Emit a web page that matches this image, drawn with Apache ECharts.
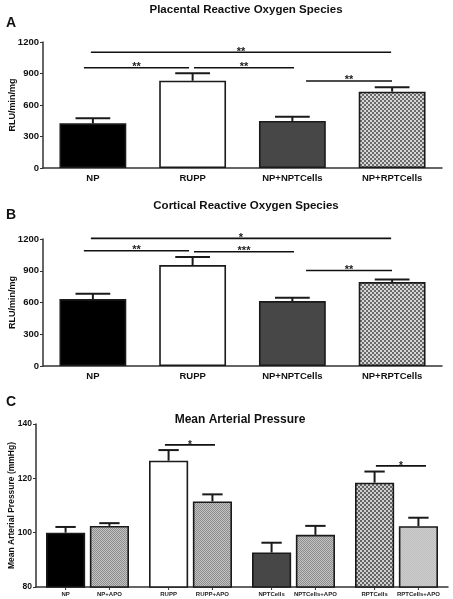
<!DOCTYPE html>
<html><head><meta charset="utf-8">
<script src="https://cdn.jsdelivr.net/npm/echarts@6/dist/echarts.min.js"></script>
<style>html,body{margin:0;padding:0;background:#fff}#c{width:453px;height:599px}</style>
</head><body><div id="c"></div>
<script>
// ---------- data ----------
const rosCategories = ['NP', 'RUPP', 'NP+NPTCells', 'NP+RPTCells'];
const placentalMean = [425, 831, 448, 727];
const placentalSem = [48, 71, 41, 42];
const corticalMean = [632, 954, 613, 793];
const corticalSem = [50, 76, 31, 25];
const rosTicks = [0, 300, 600, 900, 1200];

const mapGroups = ['NP', 'RUPP', 'NPTCells', 'RPTCells'];
const mapLabelsCtrl = ['NP', 'RUPP', 'NPTCells', 'RPTCells'];
const mapLabelsApo = ['NP+APO', 'RUPP+APO', 'NPTCells+APO', 'RPTCells+APO'];
const mapCtrlMean = [100.0, 126.5, 92.7, 118.4];
const mapCtrlSem = [2.1, 3.9, 3.6, 4.1];
const mapApoMean = [102.5, 111.5, 99.2, 102.4];
const mapApoSem = [1.0, 2.6, 3.3, 3.1];
const mapTicks = [80, 100, 120, 140];

// significance brackets: [from (category units), to, level, stars]
const sigPlacental = [[-0.02, 2.99, 1102, '**'], [-0.09, 0.964, 955, '**'], [1.014, 2.016, 955, '**'], [2.137, 2.999, 829, '**']];
const sigCortical = [[-0.02, 2.99, 1206, '*'], [-0.09, 0.964, 1089, '**'], [1.014, 2.016, 1080, '***'], [2.137, 2.999, 903, '**']];
const sigMap = [[0.752, 1.238, 132.3, '*'], [2.80, 3.286, 124.6, '*']];

// ---------- styles ----------
const FONT = '"Liberation Sans", Arial, sans-serif';
function checker(cell, c1, c2) {
  const cv = document.createElement('canvas');
  cv.width = cv.height = cell * 2;
  const ctx = cv.getContext('2d');
  ctx.fillStyle = c1; ctx.fillRect(0, 0, cell * 2, cell * 2);
  ctx.fillStyle = c2; ctx.fillRect(0, 0, cell, cell); ctx.fillRect(cell, cell, cell, cell);
  return { image: cv, repeat: 'repeat' };
}
const coarseChecker = checker(2, '#d6d6d6', '#6a6a6a');
const fineGray = checker(1, '#c2c2c2', '#8e8e8e');
const lightGray = checker(1, '#cdcdcd', '#bebebe');
const rosColors = ['#000000', '#ffffff', '#474747', coarseChecker];
const ctrlColors = ['#000000', '#ffffff', '#474747', checker(2, '#cfcfcf', '#646464')];
const apoColors = [fineGray, fineGray, fineGray, lightGray];
const BORDER = '#1a1a1a';
const AXIS = '#333333';

function barData(vals, colors) {
  return vals.map((v, i) => ({ value: v, itemStyle: { color: colors[i] } }));
}

function errRender(offsetSign, barFrac, gapFrac, capFrac, tickBase) {
  return function (params, api) {
    const x = api.value(0);
    const mean = api.value(1), sem = api.value(2);
    const catW = api.size([1, 0])[0];
    const bw = catW * barFrac;
    const off = offsetSign * bw * (1 + gapFrac) / 2;
    const top = api.coord([x, mean + sem]);
    const base = api.coord([x, mean]);
    const cx = top[0] + off;
    const cap = bw * capFrac / 2;
    const children = [
      { type: 'line', shape: { x1: cx, y1: base[1], x2: cx, y2: top[1] }, style: { stroke: BORDER, lineWidth: 2 } },
      { type: 'line', shape: { x1: cx - cap, y1: top[1], x2: cx + cap, y2: top[1] }, style: { stroke: BORDER, lineWidth: 2 } }
    ];
    if (tickBase != null) {
      const b = api.coord([x, tickBase]);
      children.push({ type: 'line', shape: { x1: cx, y1: b[1], x2: cx, y2: b[1] + 3 }, style: { stroke: AXIS, lineWidth: 1 } });
    }
    return { type: 'group', children: children };
  };
}

function sigRender(fontSize) {
  return function (params, api) {
    const p1 = api.coord([api.value(0), api.value(2)]);
    const p2 = api.coord([api.value(1), api.value(2)]);
    return {
      type: 'group',
      children: [
        { type: 'line', shape: { x1: p1[0], y1: p1[1], x2: p2[0], y2: p1[1] }, style: { stroke: '#111', lineWidth: 1.6 } },
        { type: 'text', style: { text: api.value(3), x: (p1[0] + p2[0]) / 2, y: p1[1] + 5, align: 'center', verticalAlign: 'bottom', font: 'bold ' + fontSize + 'px ' + FONT, fill: '#222' } }
      ]
    };
  };
}

function sigData(arr) { return arr.map(s => [s[0], s[1], s[2], s[3]]); }

const chart = echarts.init(document.getElementById('c'), null, { renderer: 'canvas' });

const commonCatAxis = {
  type: 'category',
  axisLine: { lineStyle: { color: AXIS, width: 1.5 } },
  axisTick: { alignWithLabel: true, length: 3, lineStyle: { color: AXIS } },
  axisLabel: { color: '#111', fontWeight: 'bold', fontSize: 9.5, fontFamily: FONT, margin: 5 }
};
const rosY = {
  type: 'value', min: rosTicks[0], max: rosTicks[rosTicks.length - 1], interval: 300,
  splitLine: { show: false },
  axisLine: { show: true, onZero: false, lineStyle: { color: AXIS, width: 1.5 } },
  axisTick: { show: true, length: 3, lineStyle: { color: AXIS } },
  axisLabel: { color: '#111', fontWeight: 'bold', fontSize: 9.5, fontFamily: FONT, margin: 4, formatter: v => String(v) },
  name: 'RLU/min/mg', nameLocation: 'middle', nameGap: 26, nameMoveOverlap: false,
  nameTextStyle: { color: '#111', fontWeight: 'bold', fontSize: 9, fontFamily: FONT }
};

const option = {
  animation: false,
  backgroundColor: '#ffffff',
  title: [
    { text: 'Placental Reactive Oxygen Species', left: 241, top: -1, textAlign: 'center', textStyle: { fontSize: 11.5, fontWeight: 'bold', fontFamily: FONT, color: '#111' } },
    { text: 'Cortical Reactive Oxygen Species', left: 241, top: 195, textAlign: 'center', textStyle: { fontSize: 11.5, fontWeight: 'bold', fontFamily: FONT, color: '#111' } },
    { text: 'Mean Arterial Pressure', left: 235, top: 409, textAlign: 'center', textStyle: { fontSize: 12, fontWeight: 'bold', fontFamily: FONT, color: '#111' } }
  ],
  graphic: [
    { type: 'text', left: 6, top: 16, style: { text: 'A', font: 'bold 14px ' + FONT, fill: '#111' } },
    { type: 'text', left: 6, top: 208, style: { text: 'B', font: 'bold 14px ' + FONT, fill: '#111' } },
    { type: 'text', left: 6, top: 395, style: { text: 'C', font: 'bold 14px ' + FONT, fill: '#111' } }
  ],
  grid: [
    { left: 43, right: 11, top: 42, height: 126, outerBoundsMode: 'none', containLabel: false },
    { left: 43, right: 11, top: 239, height: 127, outerBoundsMode: 'none', containLabel: false },
    { left: 36, right: 5, top: 424, height: 163, outerBoundsMode: 'none', containLabel: false }
  ],
  xAxis: [
    Object.assign({}, commonCatAxis, { gridIndex: 0, data: rosCategories }),
    { type: 'value', gridIndex: 0, min: -0.5, max: 3.5, show: false },
    Object.assign({}, commonCatAxis, { gridIndex: 1, data: rosCategories }),
    { type: 'value', gridIndex: 1, min: -0.5, max: 3.5, show: false },
    Object.assign({}, commonCatAxis, { gridIndex: 2, data: mapGroups, axisTick: { show: false }, axisLabel: { show: false } }),
    { type: 'value', gridIndex: 2, min: -0.5, max: 3.5, show: false }
  ],
  yAxis: [
    Object.assign({}, rosY, { gridIndex: 0 }),
    Object.assign({}, rosY, { gridIndex: 1 }),
    {
      type: 'value', gridIndex: 2, min: mapTicks[0], max: mapTicks[mapTicks.length - 1], interval: 20,
      splitLine: { show: false },
      axisLine: { show: true, onZero: false, lineStyle: { color: AXIS, width: 1.5 } },
      axisTick: { show: true, length: 3, lineStyle: { color: AXIS } },
      axisLabel: { color: '#111', fontWeight: 'bold', fontSize: 8.5, fontFamily: FONT, margin: 4 },
      name: 'Mean Arterial Pressure (mmHg)', nameLocation: 'middle', nameGap: 20, nameMoveOverlap: false,
      nameTextStyle: { color: '#111', fontWeight: 'bold', fontSize: 8.5, fontFamily: FONT }
    }
  ],
  series: [
    { type: 'bar', xAxisIndex: 0, yAxisIndex: 0, data: barData(placentalMean, rosColors), barWidth: '67%', itemStyle: { borderColor: BORDER, borderWidth: 1.6 }, z: 2 },
    { type: 'custom', xAxisIndex: 0, yAxisIndex: 0, data: rosCategories.map((c, i) => [c, placentalMean[i], placentalSem[i]]), renderItem: errRender(0, 0.67, 0, 0.52, null), z: 3 },
    { type: 'custom', xAxisIndex: 1, yAxisIndex: 0, data: sigData(sigPlacental), renderItem: sigRender(11), z: 4 },

    { type: 'bar', xAxisIndex: 2, yAxisIndex: 1, data: barData(corticalMean, rosColors), barWidth: '67%', itemStyle: { borderColor: BORDER, borderWidth: 1.6 }, z: 2 },
    { type: 'custom', xAxisIndex: 2, yAxisIndex: 1, data: rosCategories.map((c, i) => [c, corticalMean[i], corticalSem[i]]), renderItem: errRender(0, 0.67, 0, 0.52, null), z: 3 },
    { type: 'custom', xAxisIndex: 3, yAxisIndex: 1, data: sigData(sigCortical), renderItem: sigRender(11), z: 4 },

    {
      type: 'bar', xAxisIndex: 4, yAxisIndex: 2, data: barData(mapCtrlMean, ctrlColors), barWidth: '38%', barGap: '12%',
      itemStyle: { borderColor: BORDER, borderWidth: 1.6 }, z: 2,
      label: { show: true, position: ['50%', '100%'], offset: [0, 4], align: 'center', verticalAlign: 'top', formatter: p => mapLabelsCtrl[p.dataIndex], fontSize: 6, fontWeight: 'bold', fontFamily: FONT, color: '#222' }
    },
    {
      type: 'bar', xAxisIndex: 4, yAxisIndex: 2, data: barData(mapApoMean, apoColors), barWidth: '38%', barGap: '12%',
      itemStyle: { borderColor: BORDER, borderWidth: 1.6 }, z: 2,
      label: { show: true, position: ['50%', '100%'], offset: [0, 4], align: 'center', verticalAlign: 'top', formatter: p => mapLabelsApo[p.dataIndex], fontSize: 6, fontWeight: 'bold', fontFamily: FONT, color: '#222' }
    },
    { type: 'custom', xAxisIndex: 4, yAxisIndex: 2, data: mapGroups.map((g, i) => [g, mapCtrlMean[i], mapCtrlSem[i]]), renderItem: errRender(-1, 0.38, 0.12, 0.52, mapTicks[0]), z: 3 },
    { type: 'custom', xAxisIndex: 4, yAxisIndex: 2, data: mapGroups.map((g, i) => [g, mapApoMean[i], mapApoSem[i]]), renderItem: errRender(1, 0.38, 0.12, 0.52, mapTicks[0]), z: 3 },
    { type: 'custom', xAxisIndex: 5, yAxisIndex: 2, data: sigData(sigMap), renderItem: sigRender(10), z: 4 }
  ]
};
chart.setOption(option);
</script>
</body></html>
